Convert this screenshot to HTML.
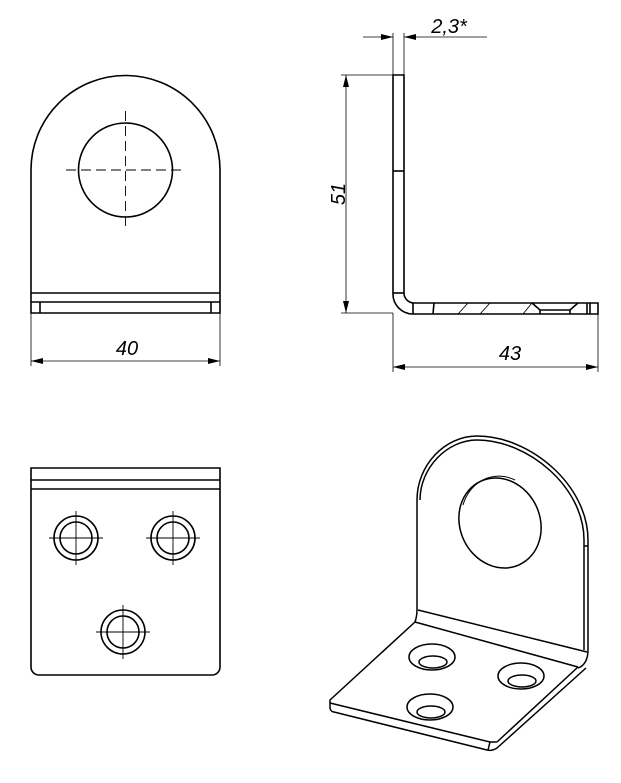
<!DOCTYPE html>
<html><head><meta charset="utf-8"><style>html,body{margin:0;padding:0;background:#fff}svg{display:block}</style></head>
<body>
<svg width="621" height="783" viewBox="0 0 621 783" xmlns="http://www.w3.org/2000/svg">
<defs>
<marker id="a" viewBox="0 0 12 6" refX="12" refY="3" markerWidth="12" markerHeight="6" orient="auto-start-reverse" markerUnits="userSpaceOnUse"><path d="M0,0 L12,3 L0,6 z" fill="#000"/></marker>
</defs>
<g fill="none" stroke="#000" stroke-width="1.6">
<path d="M31,313 V170 A94.5,94.5 0 0 1 220,170 V313 Z"/>
<line x1="31" y1="293" x2="220" y2="293"/>
<line x1="31" y1="302" x2="220" y2="302"/>
<line x1="40" y1="302" x2="40" y2="313"/>
<line x1="211" y1="302" x2="211" y2="313"/>
<circle cx="125.5" cy="170" r="47"/>
</g>
<g stroke="#000" stroke-width="0.9" stroke-dasharray="10,5" fill="none">
<line x1="66" y1="170" x2="186" y2="170"/>
<line x1="125.5" y1="111" x2="125.5" y2="230"/>
</g>
<g stroke="#000" stroke-width="0.8" fill="none">
<line x1="31" y1="313" x2="31" y2="366"/>
<line x1="220" y1="313" x2="220" y2="366"/>
<line x1="31" y1="361" x2="220" y2="361" marker-start="url(#a)" marker-end="url(#a)"/>
<line x1="341" y1="75" x2="393" y2="75"/>
<line x1="341" y1="313" x2="393" y2="313"/>
<line x1="346" y1="75" x2="346" y2="313" marker-start="url(#a)" marker-end="url(#a)"/>
<line x1="393" y1="33" x2="393" y2="75"/>
<line x1="404" y1="33" x2="404" y2="75"/>
<line x1="363" y1="37" x2="393" y2="37" marker-end="url(#a)"/>
<line x1="487" y1="37" x2="404" y2="37" marker-end="url(#a)"/>
<line x1="393" y1="313" x2="393" y2="372"/>
<line x1="598" y1="313" x2="598" y2="372"/>
<line x1="393" y1="367" x2="598" y2="367" marker-start="url(#a)" marker-end="url(#a)"/>
</g>
<g font-family="Liberation Sans, sans-serif" font-style="italic" font-size="20" fill="#000">
<text x="127" y="355" text-anchor="middle">40</text>
<text x="510" y="360" text-anchor="middle">43</text>
<text x="449" y="33" text-anchor="middle">2,3*</text>
<text transform="translate(345,194) rotate(-90)" text-anchor="middle">51</text>
</g>
<g fill="none" stroke="#000" stroke-width="1.6">
<path d="M393,75 H404 V293 A10,10 0 0 0 414,303 H598 V314 H413 A20,20 0 0 1 393,293 Z"/>
<line x1="393" y1="171" x2="404" y2="171"/>
<line x1="393" y1="293" x2="404" y2="293"/>
<line x1="413" y1="303" x2="413" y2="314"/>
<line x1="434" y1="303" x2="433" y2="314"/>
<line x1="587" y1="303" x2="587" y2="314"/>
<line x1="590" y1="303" x2="590" y2="314"/>
<path d="M532,303 L540,310 H570 L578,303"/>
<line x1="540" y1="310" x2="540" y2="314"/>
<line x1="570" y1="310" x2="570" y2="314"/>
</g>
<g stroke="#000" stroke-width="0.9">
<line x1="458" y1="314" x2="468" y2="303"/>
<line x1="480" y1="314" x2="490" y2="303"/>
<line x1="523" y1="314" x2="532" y2="303"/>
</g>
<g fill="none" stroke="#000" stroke-width="1.6">
<path d="M31,468 H220 V667 A8,8 0 0 1 212,675 H39 A8,8 0 0 1 31,667 Z"/>
<line x1="31" y1="480" x2="220" y2="480"/>
<line x1="31" y1="489" x2="220" y2="489"/>
<circle cx="76" cy="538" r="22"/><circle cx="76" cy="538" r="16"/>
<circle cx="173" cy="538" r="22"/><circle cx="173" cy="538" r="16"/>
<circle cx="123" cy="632" r="22"/><circle cx="123" cy="632" r="16"/>
</g>
<g stroke="#000" stroke-width="0.9">
<path d="M49,538 H103 M76,511 V565 M146,538 H200 M173,511 V565 M96,632 H150 M123,605 V659"/>
</g>
<g fill="none" stroke="#000" stroke-width="1.5" stroke-linejoin="round">
<path d="M417,610 V500 C417,465 445,436 477,436 C530,436 588,485 588,540 V650 C588,660 584,666 578,668"/>
<path d="M420,500 C420,468 447,440 477,440 C528,440 584,487 584,540 V650"/>
<line x1="584" y1="546" x2="588" y2="546"/>
<ellipse cx="500" cy="523" rx="40" ry="46" transform="rotate(-25 500 523)"/>
<path d="M463,505 C470,480 495,470 515,480" stroke-width="1"/>
<line x1="418" y1="610" x2="587" y2="652"/>
<path d="M417,610 C417,616 416,619 415,622 L330,700 V708 C330,710 332,712 334,712 L487,750 C491,751 494,750 497,748 L586,668"/>
<line x1="415" y1="622" x2="578" y2="667"/>
<line x1="578" y1="667" x2="497" y2="742"/>
<line x1="330" y1="703" x2="490" y2="742"/>
<line x1="490" y1="742" x2="497" y2="742"/>
<line x1="490" y1="742" x2="488" y2="750"/>
<ellipse cx="432" cy="657" rx="23" ry="13"/>
<ellipse cx="433" cy="662" rx="14" ry="6"/>
<ellipse cx="521" cy="676" rx="23" ry="13"/>
<ellipse cx="522" cy="681" rx="14" ry="6"/>
<ellipse cx="430" cy="707" rx="23" ry="13"/>
<ellipse cx="431" cy="712" rx="14" ry="6"/>
</g>
</svg>
</body></html>
